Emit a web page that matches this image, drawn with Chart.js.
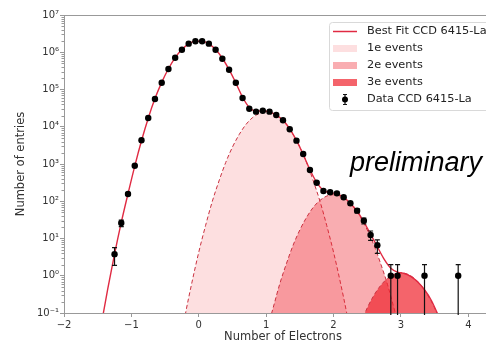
<!DOCTYPE html>
<html>
<head>
<meta charset="utf-8">
<script src="https://cdn.jsdelivr.net/npm/chart.js@4.4.0/dist/chart.umd.min.js"></script>
<style>
html, body { margin: 0; padding: 0; background: #fff; }
#wrap { width: 486px; height: 344px; overflow: hidden; }
canvas { display: block; }
</style>
</head>
<body>
<div id="wrap"><canvas id="c" width="510" height="344" style="width:510px;height:344px"></canvas></div>
<script>
// measured bins (number of electrons) and counts
const dataX = [-1.25, -1.15, -1.05, -0.95, -0.85, -0.75, -0.65, -0.55, -0.45, -0.35,
    -0.25, -0.15, -0.05, 0.05, 0.15, 0.25, 0.35, 0.45, 0.55, 0.65,
    0.75, 0.85, 0.95, 1.05, 1.15, 1.25, 1.35, 1.45, 1.55, 1.65,
    1.75, 1.85, 1.95, 2.05, 2.15, 2.25, 2.35, 2.45, 2.55, 2.65,
    2.85, 2.95, 3.35, 3.85];
const dataY = [3.8, 26, 156, 900, 4330, 17200, 55600, 152000, 355000, 714000,
    1170000, 1700000, 1970000, 1970000, 1700000, 1170000, 671000, 340000, 152000, 59100,
    30500, 25400, 27000, 25400, 20700, 14900, 8550, 4230, 1855, 690,
    315, 188, 174, 163, 128, 88, 56, 30, 12.4, 6.6,
    1, 1, 1, 1];
const dataErr = [1.9, 5.1, 12.5, 30, 66, 131, 236, 390, 596, 845,
    1082, 1304, 1404, 1404, 1304, 1082, 819, 583, 390, 243,
    175, 159, 164, 159, 144, 122, 92, 65, 43, 26,
    18, 14, 13, 13, 11, 9.4, 7.5, 5.5, 3.5, 2.6,
    1, 1, 1, 1];

// best fit curve
const fitX = [-1.45, -1.35, -1.25, -1.15, -1.05, -0.95, -0.85, -0.75, -0.65, -0.55,
    -0.45, -0.35, -0.25, -0.15, -0.05, 0.05, 0.15, 0.25, 0.35, 0.45,
    0.55, 0.65, 0.75, 0.85, 0.95, 1.05, 1.15, 1.25, 1.35, 1.45,
    1.55, 1.65, 1.75, 1.85, 1.95, 2.05, 2.15, 2.25, 2.35, 2.45,
    2.55, 2.65, 2.75, 2.85, 2.95, 3.05, 3.15, 3.25, 3.35, 3.45,
    3.55, 3.65];
const fitY = [0.045, 0.45, 3.8, 27, 160, 880, 4200, 17000, 57000, 155000,
    360000, 720000, 1180000, 1680000, 1970000, 1970000, 1680000, 1180000, 690000, 340000,
    150000, 62000, 33000, 26500, 26500, 25000, 20500, 15000, 8800, 4300,
    1800, 700, 320, 195, 170, 158, 128, 88, 54, 28,
    13, 6, 2.8, 1.6, 1.25, 1.15, 0.95, 0.68, 0.42, 0.22,
    0.09, 0.035];

// single-, double-, triple-electron components
const e1X = [-0.3, -0.2, -0.1, 0.0, 0.1, 0.2, 0.3, 0.4, 0.5, 0.6, 0.7, 0.8, 0.9, 1.0,
    1.1, 1.2, 1.3, 1.4, 1.5, 1.6, 1.7, 1.8, 1.9, 2.0, 2.1, 2.2, 2.3];
const e1Y = [0.008, 0.09, 0.68, 4.3, 22, 98, 350, 1100, 2850, 6200, 11500, 17700, 22900, 25000,
    22900, 17700, 11500, 6200, 2850, 1100, 350, 98, 22, 4.3, 0.68, 0.09, 0.008];
const e2X = [1.0, 1.1, 1.2, 1.3, 1.4, 1.5, 1.6, 1.7, 1.8, 1.9, 2.0,
    2.1, 2.2, 2.3, 2.4, 2.5, 2.6, 2.7, 2.8, 2.9, 3.0];
const e2Y = [0.03, 0.13, 0.59, 2.1, 6.6, 17, 37, 69, 106, 138, 150,
    138, 106, 69, 37, 17, 6.6, 2.1, 0.59, 0.13, 0.03];
const e3X = [2.4, 2.5, 2.6, 2.7, 2.8, 2.9, 3.0, 3.1, 3.2, 3.3, 3.4, 3.5, 3.6];
const e3Y = [0.052, 0.137, 0.30, 0.55, 0.85, 1.10, 1.2, 1.10, 0.85, 0.55, 0.30, 0.137, 0.052];

const xTicks = [-2, -1, 0, 1, 2, 3, 4];
const yTicks = [0.1, 1, 10, 100, 1e3, 1e4, 1e5, 1e6, 1e7];
const yTickLabels = ['10\u207B\u00B9', '10\u2070', '10\u00B9', '10\u00B2', '10\u00B3', '10\u2074', '10\u2075', '10\u2076', '10\u2077'];

function pts(xs, ys) {
    return xs.map((x, i) => ({ x: x, y: ys[i] }));
}

const red = '#e02a42';
const dashRed = '#c9303f';
const fill1 = 'rgba(240,40,50,0.15)';
const fill2 = 'rgba(240,40,50,0.38)';
const fill3 = 'rgba(240,40,50,0.72)';

Chart.defaults.font.family = "'DejaVu Sans', sans-serif";
Chart.defaults.font.size = 10;
Chart.defaults.color = '#333';

// spine on top, minor log ticks, error bars, legend, label
const decor = {
    id: 'decor',
    beforeDatasetDraw(chart, args) {
        if (args.index !== 0) return;
        const ctx = chart.ctx, xs = chart.scales.x, ys = chart.scales.y, a = chart.chartArea;
        ctx.save();
        ctx.strokeStyle = '#111';
        ctx.lineWidth = 1.2;
        dataX.forEach((x, i) => {
            const px = xs.getPixelForValue(x);
            const hi = ys.getPixelForValue(dataY[i] + dataErr[i]);
            const lo = dataY[i] - dataErr[i] > 0 ? ys.getPixelForValue(dataY[i] - dataErr[i]) : a.bottom + 2;
            ctx.beginPath();
            ctx.moveTo(px, hi); ctx.lineTo(px, lo);
            ctx.moveTo(px - 2.5, hi); ctx.lineTo(px + 2.5, hi);
            if (lo < a.bottom) { ctx.moveTo(px - 2.5, lo); ctx.lineTo(px + 2.5, lo); }
            ctx.stroke();
        });
        ctx.restore();
    },
    afterDraw(chart) {
        const ctx = chart.ctx, ys = chart.scales.y, a = chart.chartArea;
        ctx.save();
        ctx.strokeStyle = '#999';
        ctx.lineWidth = 1;
        ctx.beginPath();
        ctx.moveTo(a.left, a.top + 0.5); ctx.lineTo(a.right, a.top + 0.5);
        ctx.moveTo(a.right - 0.5, a.top); ctx.lineTo(a.right - 0.5, a.bottom);
        for (let d = -1; d < 7; d++) {
            for (let m = 2; m < 10; m++) {
                const py = Math.round(ys.getPixelForValue(m * Math.pow(10, d))) + 0.5;
                ctx.moveTo(a.left - 2.5, py); ctx.lineTo(a.left, py);
            }
        }
        ctx.stroke();

        // legend box
        const lx = 329, ly = 22, lw = 170, lh = 88;
        ctx.fillStyle = 'rgba(255,255,255,0.85)';
        ctx.strokeStyle = '#d9d9d9';
        ctx.beginPath();
        ctx.roundRect(lx + 0.5, ly + 0.5, lw, lh, 3);
        ctx.fill(); ctx.stroke();

        const ds = chart.data.datasets;
        const rows = [31.5, 48.5, 65.5, 82.5, 99.5];
        const order = [1, 4, 3, 2, 0];
        ctx.font = "11.3px 'DejaVu Sans'";
        ctx.textBaseline = 'middle';
        order.forEach((k, r) => {
            const y = rows[r];
            const d = ds[k];
            if (k === 1) {
                ctx.strokeStyle = red; ctx.lineWidth = 1.5;
                ctx.beginPath(); ctx.moveTo(333, y); ctx.lineTo(357, y); ctx.stroke();
            } else if (k === 0) {
                ctx.strokeStyle = '#111'; ctx.lineWidth = 1.2;
                ctx.beginPath();
                ctx.moveTo(345, y - 5); ctx.lineTo(345, y + 5);
                ctx.moveTo(343, y - 5); ctx.lineTo(347, y - 5);
                ctx.moveTo(343, y + 5); ctx.lineTo(347, y + 5);
                ctx.stroke();
                ctx.fillStyle = '#000';
                ctx.beginPath(); ctx.arc(345, y, 3, 0, Math.PI * 2); ctx.fill();
            } else {
                ctx.fillStyle = d.backgroundColor;
                ctx.fillRect(333, y - 3.5, 24, 7);
            }
            ctx.fillStyle = '#222';
            ctx.fillText(d.label, 367, y);
        });

        ctx.fillStyle = '#000';
        ctx.font = "italic 27px 'Liberation Sans'";
        ctx.textBaseline = 'alphabetic';
        ctx.fillText('preliminary', 350, 171);
        ctx.restore();
    }
};

const lineBase = { type: 'line', pointRadius: 0, cubicInterpolationMode: 'monotone' };

new Chart(document.getElementById('c'), {
    type: 'scatter',
    data: {
        datasets: [
            { label: 'Data CCD 6415-La', data: pts(dataX, dataY), pointRadius: 3.2,
              pointBackgroundColor: '#000', pointBorderWidth: 0, showLine: false },
            Object.assign({ label: 'Best Fit CCD 6415-La', data: pts(fitX, fitY),
              borderColor: red, borderWidth: 1.4, fill: false }, lineBase),
            Object.assign({ label: '3e events', data: pts(e3X, e3Y), borderColor: dashRed,
              borderWidth: 1, borderDash: [4, 2.5], backgroundColor: fill3, fill: 'start' }, lineBase),
            Object.assign({ label: '2e events', data: pts(e2X, e2Y), borderColor: dashRed,
              borderWidth: 1, borderDash: [4, 2.5], backgroundColor: fill2, fill: 'start' }, lineBase),
            Object.assign({ label: '1e events', data: pts(e1X, e1Y), borderColor: dashRed,
              borderWidth: 1, borderDash: [4, 2.5], backgroundColor: fill1, fill: 'start' }, lineBase)
        ]
    },
    options: {
        responsive: false,
        animation: false,
        layout: { padding: { top: 15, right: 8, left: 0, bottom: 0 } },
        plugins: { legend: { display: false }, tooltip: { enabled: false } },
        scales: {
            x: {
                type: 'linear', min: -2, max: 4.5,
                afterBuildTicks: s => { s.ticks = xTicks.map(v => ({ value: v })); },
                afterFit: s => { s.height = 31; },
                ticks: { callback: v => String(v).replace('-', '\u2212'), padding: 2, color: '#333' },
                grid: { drawOnChartArea: false, tickLength: 4, color: '#999' },
                border: { color: '#999' },
                title: { display: true, text: 'Number of Electrons', font: { size: 11.5 }, padding: { top: 0, bottom: 0 }, color: '#333' }
            },
            y: {
                type: 'logarithmic', min: 0.1, max: 1e7,
                afterBuildTicks: s => { s.ticks = yTicks.map(v => ({ value: v })); },
                afterFit: s => { s.width = 64; },
                ticks: { callback: (v, i) => yTickLabels[i], padding: 1, color: '#333', autoSkip: false },
                grid: { drawOnChartArea: false, tickLength: 4, color: '#999' },
                border: { color: '#999' },
                title: { display: true, text: 'Number of entries', font: { size: 11.5 }, padding: { top: 14.4, bottom: 0 }, color: '#333' }
            }
        }
    },
    plugins: [decor]
});
</script>
</body>
</html>
